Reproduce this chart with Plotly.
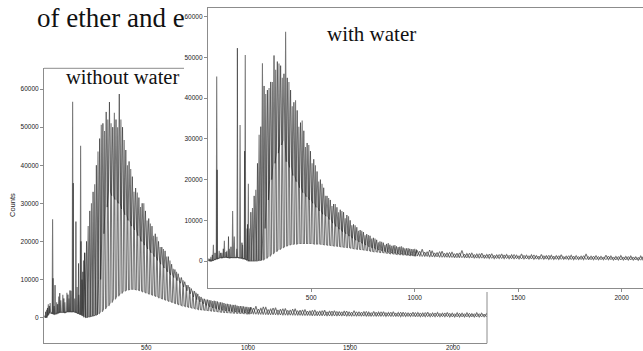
import plotly.graph_objects as go

W, H = 643, 351

# ---------------- data ----------------
comb_gray_mz = [200, 216, 232, 248, 264, 280, 296, 312, 328, 344,
                360, 376, 392, 408, 424, 440, 456, 472, 488, 504,
                520, 536, 552, 568, 584, 600, 616, 632, 648, 664,
                680, 696, 712, 728, 744, 760, 776, 792, 808, 824,
                840, 856, 872, 888, 904, 920, 936, 952, 968, 984,
                1000]
comb_black_mz = [208, 224, 240, 256, 272, 288, 304, 320, 336, 352,
                 368, 384, 400, 416, 432, 448, 464, 480, 496, 512,
                 528, 544, 560, 576, 592, 608, 624, 640, 656, 672,
                 688, 704, 720, 736, 752, 768, 784, 800, 816, 832,
                 848, 864, 880, 896, 912, 928, 944, 960, 976, 992,
                 1008]
tail_gray_mz = [1012, 1036, 1060, 1084, 1108, 1132, 1156, 1180, 1204, 1228,
                1252, 1276, 1300, 1324, 1348, 1372, 1396, 1420, 1444, 1468,
                1492, 1516, 1540, 1564, 1588, 1612, 1636, 1660, 1684, 1708,
                1732, 1756, 1780, 1804, 1828, 1852, 1876, 1900, 1924, 1948,
                1972, 1996, 2020, 2044, 2068, 2092, 2116, 2140, 2164]
tail_black_mz = [1024, 1048, 1072, 1096, 1120, 1144, 1168, 1192, 1216, 1240,
                 1264, 1288, 1312, 1336, 1360, 1384, 1408, 1432, 1456, 1480,
                 1504, 1528, 1552, 1576, 1600, 1624, 1648, 1672, 1696, 1720,
                 1744, 1768, 1792, 1816, 1840, 1864, 1888, 1912, 1936, 1960,
                 1984, 2008, 2032, 2056, 2080, 2104, 2128, 2152, 2176]

# ---- "with water" spectrum (upper panel) ----
up_low_gray_mz = [5, 15, 27, 43, 55, 68, 80, 92, 104, 120, 128, 140, 156, 168, 181, 190, 196]
up_low_gray_top = [600, 1000, 4000, 45300, 2500, 2000, 5000, 2500, 3000, 12300, 6000, 3000, 33400, 4000, 50600, 8000, 19000]
up_low_gray_base = [0, 0, 300, 500, 800, 800, 1000, 900, 800, 900, 900, 900, 800, 600, 500, 200, 0]
up_low_black_mz = [10, 22, 35, 45, 62, 75, 88, 100, 112, 143, 165, 178, 192]
up_low_black_top = [500, 1500, 2000, 22400, 2000, 3000, 2200, 6000, 3500, 52300, 4500, 27000, 9000]
up_low_black_base = [0, 0, 300, 500, 800, 800, 900, 800, 800, 800, 700, 500, 200]

up_gray_top = [8000, 13000, 17500, 31000, 48600, 41000, 42500, 44000, 47000, 48500,
               45000, 56300, 44000, 38000, 39500, 33000, 34500, 28000, 28500, 24000,
               23500, 19500, 19000, 16000, 15500, 13500, 14000, 12000, 12300, 10500,
               11000, 8800, 8800, 7400, 7400, 6300, 6400, 5500, 5500, 4600,
               4700, 4000, 4400, 3700, 3900, 3400, 3600, 3100, 3200, 2900,
               3000]
up_black_top = [12000, 16000, 24000, 33000, 43000, 42000, 44000, 50500, 49000, 48000,
                46000, 45000, 42000, 39000, 37000, 34000, 32000, 29000, 27000, 25000,
                22000, 20000, 18000, 16000, 15000, 14000, 13200, 12600, 12000, 11300,
                10000, 9000, 8300, 7600, 7100, 6600, 6200, 5700, 5200, 4800,
                4500, 4200, 4000, 3800, 3600, 3500, 3300, 3100, 3000, 2900,
                2800]
up_base = [0, 0, 0, 100, 200, 600, 1100, 1700, 2300, 2800,
           3200, 3600, 3900, 4100, 4200, 4300, 4300, 4300, 4300, 4300,
           4200, 4200, 4100, 4000, 3900, 3800, 3700, 3600, 3500, 3400,
           3300, 3100, 3000, 2900, 2800, 2700, 2600, 2400, 2300, 2200,
           2100, 2000, 1900, 1800, 1700, 1600, 1550, 1500, 1400, 1350,
           1300]
up_black_valley = [0, 0, 100, 200, 8000, 15000, 20000, 24000, 26500, 28500,
                   29700, 24400, 23000, 21000, 19500, 18000, 16800, 15800, 15000, 14200,
                   13200, 12300, 11500, 11000, 10200, 9300, 8500, 7800, 7200, 6700,
                   6100, 5600, 5100, 4700, 4300, 3900, 3500, 3200, 2900, 2700,
                   2500, 2300, 2100, 2000, 1900, 1800, 1700, 1600, 1500, 1450,
                   1400]
up_tail_gray_top = [2600, 2900, 2300, 2500, 2100, 2400, 2000, 2200, 1900, 2600,
                    1800, 2000, 1700, 1900, 1600, 1800, 1500, 1700, 1600, 1500,
                    1400, 1700, 1400, 1500, 1300, 1600, 1300, 1400, 1300, 1500,
                    1200, 1400, 1300, 1200, 1700, 1200, 1300, 1100, 1400, 1200,
                    1100, 1300, 1100, 1200, 1000, 1200, 1100, 1000, 1100]
up_tail_black_top = [2400, 2200, 2700, 2000, 2300, 1900, 2100, 1800, 2000, 1700,
                     1900, 1600, 1800, 1500, 1700, 1400, 1600, 1500, 1400, 1600,
                     1300, 1400, 1300, 1500, 1200, 1300, 1400, 1200, 1300, 1100,
                     1300, 1200, 1100, 1300, 1100, 1200, 1100, 1000, 1200, 1000,
                     1100, 1000, 1100, 1000, 900, 1100, 1000, 900, 1000]
up_tail_base = [1200, 1100, 1100, 1000, 1000, 900, 900, 850, 800, 800,
                750, 750, 700, 700, 650, 650, 600, 600, 600, 550,
                550, 500, 500, 500, 450, 450, 450, 400, 400, 400,
                400, 350, 350, 350, 350, 300, 300, 300, 300, 300,
                250, 250, 250, 250, 250, 200, 200, 200, 200]

# ---- "without water" spectrum (lower panel) ----
lo_low_gray_mz = [5, 13, 21, 30, 42, 50, 62, 72, 82, 92, 102, 112, 122, 132, 140, 150, 162, 170, 179, 186, 193]
lo_low_gray_top = [500, 2000, 3500, 3800, 25800, 3000, 4000, 5500, 4500, 6000, 4000, 6500, 5000, 7000, 56700, 5000, 8000, 6000, 45100, 10000, 15000]
lo_low_gray_base = [0, 0, 800, 1500, 1000, 800, 1000, 1200, 1500, 1500, 1200, 1500, 1500, 1500, 1500, 1500, 1200, 1000, 800, 500, 300]
lo_low_black_mz = [8, 17, 26, 44, 54, 67, 77, 97, 117, 127, 143, 156, 169, 181, 190, 198]
lo_low_black_top = [1500, 2500, 3000, 10300, 8500, 3500, 6400, 5000, 6000, 7100, 35300, 25200, 14200, 20000, 12000, 17000]
lo_low_black_base = [0, 500, 1200, 1000, 1000, 1200, 1300, 1300, 1500, 1500, 1500, 1300, 1000, 800, 500, 200]

lo_gray_top = [17000, 24000, 30000, 35000, 43600, 50600, 49000, 52000, 51000, 53800,
               50000, 52000, 46600, 40000, 39000, 33000, 32800, 29000, 30000, 25500,
               24700, 21500, 21200, 18500, 18000, 16000, 15000, 12800, 12000, 10500,
               9800, 8500, 8000, 7000, 6500, 5600, 5000, 4700, 4600, 4300,
               4300, 4000, 3900, 3600, 3500, 3300, 3300, 3000, 3000, 2800,
               2700]
lo_black_top = [20000, 28000, 33000, 40000, 47000, 51000, 54000, 56600, 50000, 52000,
                58700, 50000, 44000, 41000, 37000, 34000, 31500, 30000, 28000, 26000,
                24000, 22000, 20000, 18500, 17500, 16000, 14000, 12600, 11500, 10500,
                9400, 8500, 7600, 6900, 6200, 5400, 4900, 4700, 4500, 4400,
                4200, 4000, 3800, 3600, 3400, 3300, 3100, 3000, 2900, 2800,
                2700]
lo_base = [0, 100, 300, 500, 900, 1500, 2200, 3000, 3900, 4800,
           5600, 6300, 6900, 7200, 7400, 7400, 7300, 7000, 6700, 6400,
           6100, 5800, 5500, 5100, 4800, 4500, 4200, 3900, 3600, 3300,
           3100, 2900, 2700, 2500, 2300, 2100, 2000, 1900, 1800, 1700,
           1600, 1500, 1400, 1300, 1250, 1200, 1150, 1100, 1050, 1000,
           950]
lo_black_valley = [0, 200, 400, 700, 10000, 22000, 29000, 33000, 32000, 31000,
                   30000, 28500, 27000, 25500, 24000, 23000, 21500, 20000, 19000, 18000,
                   17000, 16000, 15000, 14000, 13000, 12000, 11200, 10500, 9700, 9000,
                   8000, 7000, 6200, 5400, 4700, 4100, 3600, 3200, 2800, 2500,
                   2300, 2100, 1900, 1800, 1700, 1600, 1500, 1400, 1300, 1250,
                   1200]
lo_tail_gray_top = [2700, 3000, 2500, 2800, 2300, 2600, 2200, 2400, 2000, 2300,
                    1900, 2100, 1800, 2000, 1700, 1900, 1700, 1800, 1600, 1700,
                    1500, 1800, 1500, 1600, 1400, 1600, 1400, 1500, 1300, 1500,
                    1300, 1400, 1200, 1400, 1300, 1200, 1400, 1200, 1300, 1100,
                    1300, 1100, 1200, 1100, 1200, 1000, 1200, 1100, 1000]
lo_tail_black_top = [2500, 2200, 2800, 2100, 2500, 2000, 2300, 1900, 2200, 1800,
                     2000, 1700, 1900, 1600, 1800, 1500, 1700, 1600, 1500, 1700,
                     1400, 1500, 1400, 1600, 1300, 1400, 1500, 1300, 1400, 1200,
                     1400, 1300, 1200, 1300, 1200, 1300, 1100, 1200, 1100, 1200,
                     1100, 1000, 1100, 1000, 1100, 1000, 1000, 900, 1000]
lo_tail_base = [900, 850, 800, 750, 700, 700, 650, 600, 600, 550,
                550, 500, 500, 450, 450, 450, 400, 400, 400, 400,
                350, 350, 350, 350, 300, 300, 300, 300, 300, 250,
                250, 250, 250, 250, 200, 200, 200, 200, 200, 200,
                200, 150, 150, 150, 150, 150, 150, 150, 150]

y_tickvals = [0, 10000, 20000, 30000, 40000, 50000, 60000]
x_tickvals = [500, 1000, 1500, 2000]
x_ticktext = ["500", "1000", "1500", "2000"]
title_text = "of ether and e"
lower_label = "without water"
upper_label = "with water"
y_title = "Counts"


# ---------------- helpers ----------------
def sticks(*groups):
    """groups: (mz, top, base, half_width_in_mz)"""
    xs, ys = [], []
    for mz, top, base, hw in groups:
        for m, t, b in zip(mz, top, base):
            xs += [m - hw, m, m + hw]
            ys += [b, t, b]
    return xs, ys


def px(x):
    return x / W


def py(y):
    return 1 - y / H


GRAY = "#767676"
BLACK = "#262626"
LW_G = 1.1
LW_B = 0.6
HW_LOW, HW_COMB, HW_TAIL = 2, 5, 12
SERIF = "Liberation Serif, Times New Roman, serif"
SANS = "Liberation Sans, Arial, sans-serif"

fig = go.Figure()

# lower panel (without water) on x / y
gx, gy = sticks((lo_low_gray_mz, lo_low_gray_top, lo_low_gray_base, HW_LOW),
                (comb_gray_mz, lo_gray_top, lo_base, HW_COMB),
                (tail_gray_mz, lo_tail_gray_top, lo_tail_base, HW_TAIL))
bx, by = sticks((lo_low_black_mz, lo_low_black_top, lo_low_black_base, HW_LOW),
                (comb_black_mz, lo_black_top, lo_black_valley, HW_COMB),
                (tail_black_mz, lo_tail_black_top, lo_tail_base, HW_TAIL))
fig.add_trace(go.Scatter(x=gx, y=gy, mode="lines", line=dict(color=GRAY, width=LW_G),
                         xaxis="x", yaxis="y", showlegend=False, hoverinfo="skip"))
fig.add_trace(go.Scatter(x=bx, y=by, mode="lines", line=dict(color=BLACK, width=LW_B),
                         xaxis="x", yaxis="y", showlegend=False, hoverinfo="skip"))

# upper panel (with water) on x2 / y2
gx, gy = sticks((up_low_gray_mz, up_low_gray_top, up_low_gray_base, HW_LOW),
                (comb_gray_mz, up_gray_top, up_base, HW_COMB),
                (tail_gray_mz, up_tail_gray_top, up_tail_base, HW_TAIL))
bx, by = sticks((up_low_black_mz, up_low_black_top, up_low_black_base, HW_LOW),
                (comb_black_mz, up_black_top, up_black_valley, HW_COMB),
                (tail_black_mz, up_tail_black_top, up_tail_base, HW_TAIL))
fig.add_trace(go.Scatter(x=gx, y=gy, mode="lines", line=dict(color=GRAY, width=LW_G),
                         xaxis="x2", yaxis="y2", showlegend=False, hoverinfo="skip"))
fig.add_trace(go.Scatter(x=bx, y=by, mode="lines", line=dict(color=BLACK, width=LW_B),
                         xaxis="x2", yaxis="y2", showlegend=False, hoverinfo="skip"))

tickfont = dict(family=SANS, size=6.5, color="#222222")
axis_common = dict(showline=True, linecolor="#8c8c8c", linewidth=1, ticks="outside",
                   ticklen=3, tickcolor="#8c8c8c", tickwidth=1, showgrid=False,
                   zeroline=False, tickfont=tickfont, fixedrange=True, tickformat="d")

annotations = [
    dict(text=title_text, xref="paper", yref="paper", x=px(35), y=py(18),
         xanchor="left", yanchor="middle", showarrow=False,
         font=dict(family=SERIF, size=27, color="#111")),
    dict(text=lower_label, xref="paper", yref="paper", x=px(64), y=py(77),
         xanchor="left", yanchor="middle", showarrow=False,
         font=dict(family=SERIF, size=20.5, color="#111")),
    dict(text=upper_label, xref="paper", yref="paper", x=px(325), y=py(34),
         xanchor="left", yanchor="middle", showarrow=False,
         font=dict(family=SERIF, size=21, color="#111")),
    dict(text=y_title, xref="paper", yref="paper", x=px(12), y=py(205),
         xanchor="center", yanchor="middle", showarrow=False, textangle=-90,
         font=dict(family=SANS, size=7.5, color="#222")),
]
# lower panel x tick labels sit right at the bottom edge of the picture
for v, t in zip(x_tickvals, x_ticktext):
    annotations.append(dict(text=t, xref="x", yref="paper", x=v, y=py(347.2),
                            xanchor="center", yanchor="middle", showarrow=False,
                            font=dict(family=SANS, size=6.3, color="#222222")))

fig.update_layout(
    width=W, height=H,
    margin=dict(l=0, r=0, t=0, b=0),
    paper_bgcolor="white", plot_bgcolor="white",
    xaxis=dict(domain=[px(44), px(487)], range=[0, 2166], tickvals=x_tickvals,
               anchor="y", mirror=False, showticklabels=False, **axis_common),
    yaxis=dict(domain=[py(343.3), py(68.3)], range=[-6780, 65460], tickvals=y_tickvals,
               anchor="x", mirror=False, **axis_common),
    xaxis2=dict(domain=[px(207.8), 1.0], range=[0, 2103], tickvals=x_tickvals,
                anchor="y2", mirror=True, **axis_common),
    yaxis2=dict(domain=[py(287.7), py(8)], range=[-6560, 62160], tickvals=y_tickvals,
                anchor="x2", mirror=False, **axis_common),
    shapes=[
        # white panel body of the "with water" spectrum, hiding the one behind it
        dict(type="rect", xref="x2", yref="y2", x0=-500, x1=3000, y0=-20000, y1=90000,
             fillcolor="white", line=dict(width=0), layer="below"),
        # visible pieces of the lower panel's frame
        dict(type="line", xref="paper", yref="paper", x0=px(44), x1=px(184),
             y0=py(68.3), y1=py(68.3), line=dict(color="#8c8c8c", width=1)),
        dict(type="line", xref="paper", yref="paper", x0=px(487), x1=px(487),
             y0=py(292), y1=py(343.3), line=dict(color="#8c8c8c", width=1)),
    ],
    annotations=annotations,
)

fig.write_html("out.html", config={"displayModeBar": False},
               post_script="document.body.style.margin='0';document.body.style.overflow='hidden';")
